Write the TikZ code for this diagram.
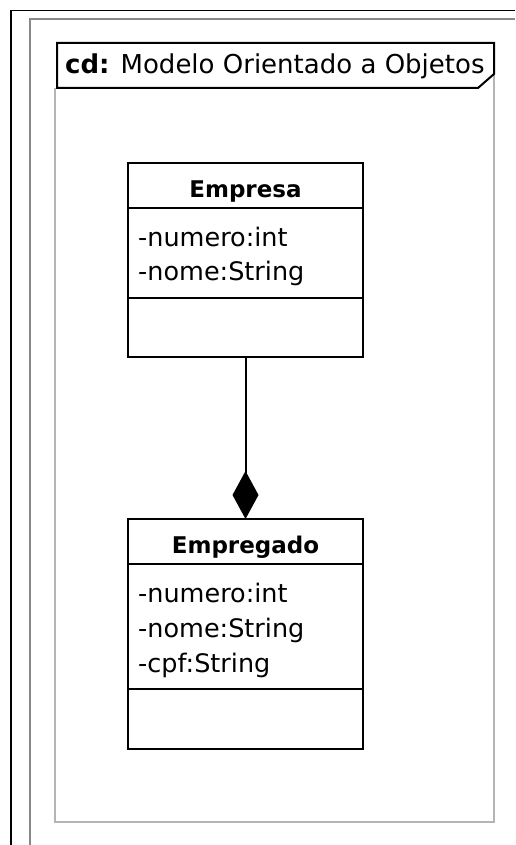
\documentclass[tikz,border=0pt]{standalone}
\usepackage{fontspec}
\setmainfont{DejaVu Sans}
\usetikzlibrary{arrows.meta}
\definecolor{edgegray}{HTML}{888888}
\definecolor{framegray}{HTML}{B4B4B4}
\begin{document}
\begin{tikzpicture}[x=1pt,y=-1pt,
  part/.style={draw=black, line width=2pt, fill=white, inner sep=0pt, outer sep=0pt,
               minimum width=235pt, anchor=north},
  attr/.style={anchor=base west, inner sep=0pt, font=\fontsize{25.5}{30}\selectfont},
  cname/.style={anchor=base, inner sep=0pt, font=\fontsize{23}{28}\selectfont\bfseries},
  tabtext/.style={anchor=base west, inner sep=0pt, font=\fontsize{26}{30}\selectfont},
  compose/.style={draw=black, line width=2pt, -{Diamond[length=48pt,width=26pt]}},
]
\useasboundingbox (0,0) rectangle (515,845);

% sheet edges
\draw[black, line width=1.5pt] (11,845) -- (11,10.5) -- (515,10.5);
\draw[edgegray, line width=2pt] (30,845) -- (30,19.5) -- (515,19.5);

% diagram frame
\draw[framegray, line width=2pt] (55,88) -- (55,822) -- (494,822) -- (494,74);
\draw[black, line width=2pt, fill=white] (57,43) -- (494,43) -- (494,74) -- (478,88) -- (57,88) -- cycle;
\node[tabtext] (title) at (65,74) {\textbf{cd:} Modelo Orientado a Objetos};

% class Empresa
\node[part, minimum height=45pt] (empresaHead) at (245.5,163) {};
\node[part, minimum height=90pt] (empresaAttr) at (empresaHead.south) {};
\node[part, minimum height=59pt] (empresaOps) at (empresaAttr.south) {};
\node[cname] (empresaName) at (245.5,197) {Empresa};
\node[attr] (empresaA1) at (138,246) {-numero:int};
\node[attr] (empresaA2) at (138,280) {-nome:String};

% class Empregado
\node[part, minimum height=45pt] (empregadoHead) at (245.5,519) {};
\node[part, minimum height=125pt] (empregadoAttr) at (empregadoHead.south) {};
\node[part, minimum height=60pt] (empregadoOps) at (empregadoAttr.south) {};
\node[cname] (empregadoName) at (245.5,553) {Empregado};
\node[attr] (empregadoA1) at (138,602) {-numero:int};
\node[attr] (empregadoA2) at (138,637) {-nome:String};
\node[attr] (empregadoA3) at (138,672) {-cpf:String};

% composition
\draw[compose] (empresaOps.south) -- (empregadoHead.north);
\end{tikzpicture}
\end{document}
